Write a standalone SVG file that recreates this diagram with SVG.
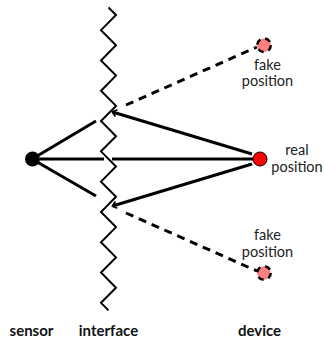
<svg xmlns="http://www.w3.org/2000/svg" width="324" height="341" viewBox="0 0 324 341">
<style>
.ln{stroke:#000;stroke-width:3;fill:none;stroke-linecap:butt}
.dash{stroke:#000;stroke-width:3;fill:none;stroke-dasharray:8,6}
.zig{stroke:#000;stroke-width:2;fill:none;stroke-linejoin:miter}
.lbl{font-family:Lato,"Liberation Sans",sans-serif;font-size:14.5px;fill:#222;text-anchor:middle}
.bold{font-family:Lato,"Liberation Sans",sans-serif;font-size:15px;font-weight:bold;fill:#111;text-anchor:middle}
.fake{fill:#ff8080;stroke:#000;stroke-width:2.5;stroke-dasharray:6,5}
</style>
<defs>
<marker id="chev" markerUnits="userSpaceOnUse" markerWidth="10" markerHeight="10" refX="0" refY="0" viewBox="-6 -5 7 10" orient="auto">
<path d="M-4,-3.5 L0,0 L-4,3.5" fill="none" stroke="#000" stroke-width="1.8"/>
</marker>
</defs>
<g id="connectors">
<line class="ln" x1="38" y1="155.5" x2="96" y2="121"/>
<line class="ln" x1="40" y1="159" x2="104" y2="159"/>
<line class="ln" x1="38" y1="162.5" x2="96" y2="196"/>
<line class="ln" x1="112" y1="159" x2="253" y2="159"/>
<line class="ln" x1="252" y1="154" x2="112.5" y2="112" marker-end="url(#chev)"/>
<line class="ln" x1="252" y1="164" x2="112.5" y2="206" marker-end="url(#chev)"/>
<line class="dash" x1="126" y1="105" x2="257" y2="47"/>
<line class="dash" x1="126" y1="213" x2="257" y2="271"/>
</g>
<g id="interface">
<polyline class="zig" points="108.5,7.5 116,15 101,30.15 116,45.3 101,60.45 116,75.6 101,90.75 116,105.9 101,121.05 116,136.2 101,151.35 116,166.5 101,181.65 116,196.8 101,211.95 116,227.1 101,242.25 116,257.4 101,272.55 116,287.7 101,302.85 108.5,310.4"/>
<text class="bold" x="108.5" y="336">interface</text>
</g>
<g id="sensor">
<circle cx="32.5" cy="159" r="7.5" fill="#000"/>
<text class="bold" x="31.5" y="336">sensor</text>
</g>
<g id="real-position">
<circle cx="260" cy="159" r="7" fill="#ff0000" stroke="#000" stroke-width="1"/>
<text class="lbl" x="297" y="155">real</text>
<text class="lbl" x="297" y="172">position</text>
</g>
<g id="fake-top">
<circle class="fake" cx="264" cy="45.3" r="6.8"/>
<text class="lbl" x="267.5" y="69.5">fake</text>
<text class="lbl" x="267.5" y="86">position</text>
</g>
<g id="fake-bottom">
<circle class="fake" cx="264" cy="273" r="6.8"/>
<text class="lbl" x="267.5" y="240">fake</text>
<text class="lbl" x="267.5" y="257">position</text>
</g>
<g id="device">
<text class="bold" x="259.5" y="336">device</text>
</g>
</svg>
